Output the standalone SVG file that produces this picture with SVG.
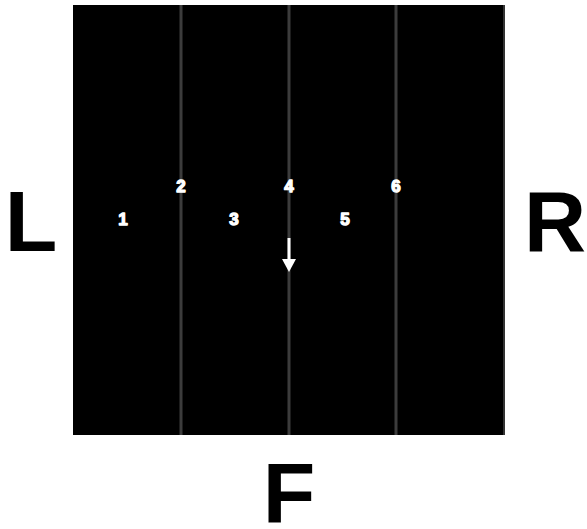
<svg xmlns="http://www.w3.org/2000/svg" width="587" height="529" viewBox="0 0 587 529">
  <style>
    .side { font-family: "Liberation Sans", Arial, sans-serif; font-weight: bold; font-size: 86px; fill: #000; text-anchor: middle; }
    .num { font-family: "Liberation Sans", Arial, sans-serif; font-weight: bold; font-size: 17px; fill: #fff; stroke: #fff; stroke-width: 1.3; stroke-linejoin: round; text-anchor: middle; }
    .lane { stroke: #3c3c3c; stroke-width: 3; }
  </style>
  <rect width="587" height="529" fill="#fff"/>
  <!-- field -->
  <g id="field">
    <rect x="73" y="5" width="432" height="430" fill="#000"/>
    <rect x="503" y="5" width="2" height="430" fill="#333"/>
  </g>
  <!-- lane dividers -->
  <g id="lanes">
    <line class="lane" x1="181" y1="5" x2="181" y2="435"/>
    <line class="lane" x1="289" y1="5" x2="289" y2="435"/>
    <line class="lane" x1="396" y1="5" x2="396" y2="435"/>
  </g>
  <!-- positions -->
  <g id="p1"><text class="num" x="123" y="225">1</text></g>
  <g id="p2"><text class="num" x="181" y="192">2</text></g>
  <g id="p3"><text class="num" x="234" y="225">3</text></g>
  <g id="p4"><text class="num" x="289" y="192">4</text></g>
  <g id="p5"><text class="num" x="345" y="225">5</text></g>
  <g id="p6"><text class="num" x="396" y="192">6</text></g>
  <!-- direction arrow -->
  <g id="connectors">
    <line x1="289" y1="238" x2="289" y2="262" stroke="#fff" stroke-width="3"/>
    <polygon points="282,259 296,259 289,272" fill="#fff"/>
  </g>
  <!-- side labels -->
  <g id="label-L"><text class="side" x="31" y="251">L</text></g>
  <g id="label-R"><text class="side" x="555" y="251">R</text></g>
  <g id="label-F"><text class="side" x="289" y="523">F</text></g>
</svg>
